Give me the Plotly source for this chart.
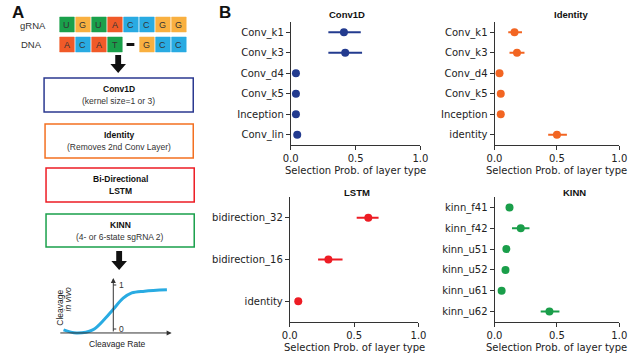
import plotly.graph_objects as go

W, H = 640, 353

# ---- panel B data ----
conv_layers = ["Conv_k1", "Conv_k3", "Conv_d4", "Conv_k5", "Inception", "Conv_lin"]
conv_prob = [0.41, 0.42, 0.04, 0.04, 0.04, 0.05]
conv_err_lo = [0.12, 0.13, 0.0, 0.0, 0.0, 0.0]
conv_err_hi = [0.13, 0.13, 0.0, 0.0, 0.0, 0.0]

ident_layers = ["Conv_k1", "Conv_k3", "Conv_d4", "Conv_k5", "Inception", "identity"]
ident_prob = [0.16, 0.18, 0.04, 0.05, 0.05, 0.50]
ident_err_lo = [0.05, 0.06, 0.0, 0.0, 0.0, 0.07]
ident_err_hi = [0.06, 0.06, 0.0, 0.0, 0.0, 0.08]

lstm_layers = ["bidirection_32", "bidirection_16", "identity"]
lstm_prob = [0.61, 0.30, 0.066]
lstm_err_lo = [0.09, 0.08, 0.0]
lstm_err_hi = [0.08, 0.11, 0.0]

kinn_layers = ["kinn_f41", "kinn_f42", "kinn_u51", "kinn_u52", "kinn_u61", "kinn_u62"]
kinn_prob = [0.12, 0.21, 0.095, 0.088, 0.057, 0.44]
kinn_err_lo = [0.0, 0.07, 0.0, 0.0, 0.0, 0.07]
kinn_err_hi = [0.0, 0.07, 0.0, 0.0, 0.0, 0.08]

# ---- panel A schematic ----
grna_seq = list("UGUACCGG")
dna_seq = list("ACAT-GCC")
nuc_col = {"U": "#1aa04b", "T": "#1aa04b", "G": "#f9b040", "A": "#f05a28", "C": "#29abe2"}

# sigmoid sketch (schematic units: cleavage rate vs cleavage in vivo)
sig_x = [-1.16, -0.86, -0.48, -0.18, 0.0, 0.23, 0.43, 0.73, 1.25]
sig_y = [-0.02, -0.09, -0.02, 0.25, 0.45, 0.70, 0.82, 0.86, 0.89]

NAVY, ORANGE, RED, GREEN = "#233b8f", "#f26522", "#ed1c24", "#1a9e4a"
TICKFONT = dict(family="DejaVu Sans", size=10, color="#222")
ARIAL = "Liberation Sans, Arial"


def px(x):
    return x / W


def py(y):
    return 1 - y / H


fig = go.Figure()

# ---- panel B ----
panels = [
    ("Conv1D", conv_layers, conv_prob, conv_err_lo, conv_err_hi, NAVY, "", (290, 423), (22, 145), 348, 15),
    ("Identity", ident_layers, ident_prob, ident_err_lo, ident_err_hi, ORANGE, "2", (499, 627), (22, 145), 577, 14),
    ("LSTM", lstm_layers, lstm_prob, lstm_err_lo, lstm_err_hi, RED, "3", (289, 421), (197, 322), 358, 192),
    ("KINN", kinn_layers, kinn_prob, kinn_err_lo, kinn_err_hi, GREEN, "4", (499, 627), (197, 322), 581, 192),
]

layout_axes = {}
annotations = []
for title, layers, prob, elo, ehi, col, k, (x0, x1), (y0, y1), tx, ty in panels:
    fig.add_trace(go.Scatter(
        x=prob, y=layers, mode="markers",
        marker=dict(size=8, color=col),
        error_x=dict(type="data", symmetric=False, array=ehi, arrayminus=elo,
                     thickness=2, width=0, color=col),
        xaxis="x" + k, yaxis="y" + k, showlegend=False
    ))
    layout_axes["xaxis" + k] = dict(
        domain=[px(x0), px(x1)], anchor="y" + k, range=[0, 1],
        tickvals=[0, 0.5, 1], ticktext=["0.0", "0.5", "1.0"],
        showline=True, linecolor="#333", linewidth=1, ticks="outside", ticklen=4,
        tickcolor="#333", showgrid=False, zeroline=False, tickfont=TICKFONT
    )
    layout_axes["yaxis" + k] = dict(
        domain=[py(y1), py(y0)], anchor="x" + k, type="category",
        categoryorder="array", categoryarray=layers, range=[len(layers) - 0.5, -0.5],
        showline=True, linecolor="#333", linewidth=1, ticks="outside", ticklen=4,
        tickcolor="#333", showgrid=False, zeroline=False, tickfont=TICKFONT
    )
    annotations.append(dict(text="<b>%s</b>" % title, x=px(tx), y=py(ty), xref="paper", yref="paper",
                            xanchor="center", yanchor="middle",
                            showarrow=False, font=dict(family=ARIAL, size=9.5, color="#111")))
    annotations.append(dict(text="Selection Prob. of layer type", x=px((x0 + x1) / 2), y=py(y1 + 25),
                            xref="paper", yref="paper", xanchor="center", yanchor="middle",
                            showarrow=False, font=TICKFONT))

# ---- panel A: pixel-space diagram axis ----
layout_axes["xaxis5"] = dict(domain=[0, px(200)], range=[0, 200], visible=False, anchor="y5", fixedrange=True)
layout_axes["yaxis5"] = dict(domain=[0, 1], range=[H, 0], visible=False, anchor="x5", fixedrange=True)
shapes = []


def rect(x0, y0, x1, y1, line, fill="white", width=1.5):
    shapes.append(dict(type="rect", xref="x5", yref="y5", x0=x0, y0=y0, x1=x1, y1=y1,
                       line=dict(color=line, width=width), fillcolor=fill, layer="below"))


def label(text, x, y, size=8.5, **kw):
    annotations.append(dict(text=text, x=x, y=y, xref="x5", yref="y5", showarrow=False,
                            font=dict(family=ARIAL, size=size, color=kw.pop("color", "#222")), **kw))


label("gRNA", 26, 25, size=9.5, color="#333")
label("DNA", 24, 44.5, size=9.5, color="#333")
for row, (seq, ytop) in enumerate([(grna_seq, 17), (dna_seq, 37)]):
    for i, nt in enumerate(seq):
        xl = 53 + 16.4 * i
        if nt == "-":
            shapes.append(dict(type="line", xref="x5", yref="y5", x0=xl + 3, x1=xl + 11,
                               y0=ytop + 7.5, y1=ytop + 7.5, line=dict(color="#111", width=3)))
            continue
        rect(xl, ytop, xl + 15, ytop + 15, nuc_col[nt], fill=nuc_col[nt], width=0.5)
        label(nt, xl + 7.5, ytop + 8, size=9, color="#333")


def down_arrow(cx, ytop, ybot):
    mid = ybot - 9
    shapes.append(dict(type="path", xref="x5", yref="y5",
                       path="M %g %g L %g %g L %g %g L %g %g L %g %g L %g %g L %g %g Z" % (
                           cx - 3, ytop, cx + 3, ytop, cx + 3, mid, cx + 8, mid, cx, ybot, cx - 8, mid, cx - 3, mid),
                       fillcolor="#111", line=dict(width=0)))


down_arrow(113, 55, 73)
boxes = [
    (37, 78, 190, 112, "#2b3990", "Conv1D", "(kernel size=1 or 3)"),
    (38, 124, 190, 158, "#f37021", "Identity", "(Removes 2nd Conv Layer)"),
    (39, 168, 191, 202, "#ed1c24", "Bi-Directional", "LSTM"),
    (39, 214, 191, 247, "#1aa04b", "KINN", "(4- or 6-state sgRNA 2)"),
]
for x0, y0, x1, y1, c, t1, t2 in boxes:
    rect(x0, y0, x1, y1, c)
    cx = (x0 + x1) / 2
    label("<b>%s</b>" % t1, cx, y0 + 11, size=8.5, color="#111")
    if t2 == "LSTM":
        label("<b>%s</b>" % t2, cx, y0 + 23, size=8.5, color="#111")
    else:
        label(t2, cx, y0 + 23, size=8.5, color="#333")
down_arrow(114, 251, 270)

label("Cleavage", 53, 308, size=8.5, textangle=-90)
label("<i>in vivo</i>", 62, 299, size=8.5, textangle=-90)
label("Cleavage Rate", 112, 344, size=8.5)

# ---- sigmoid sketch axis ----
layout_axes["xaxis6"] = dict(domain=[px(50), px(175)], range=[-1.318, 1.523], visible=False, anchor="y6", fixedrange=True)
layout_axes["yaxis6"] = dict(domain=[py(340), py(275)], range=[-0.25, 1.227], visible=False, anchor="x6", fixedrange=True)
fig.add_trace(go.Scatter(x=sig_x, y=sig_y, mode="lines", line=dict(color="#29abe2", width=3, shape="spline"),
                         xaxis="x6", yaxis="y6", showlegend=False, hoverinfo="skip"))
for tipx, tipy, tailx, taily in [(1.36, -0.09, -1.27, -0.09), (0, 1.16, 0, -0.09)]:
    annotations.append(dict(x=tipx, y=tipy, ax=tailx, ay=taily, xref="x6", yref="y6", axref="x6", ayref="y6",
                            text="", showarrow=True, arrowhead=2, arrowsize=1, arrowwidth=1, arrowcolor="#333"))
for v in [0, 1]:
    shapes.append(dict(type="line", xref="x6", yref="y6", x0=0, x1=0.07, y0=v, y1=v,
                       line=dict(color="#333", width=1)))
    annotations.append(dict(text=str(v), x=0.08, y=v, xref="x6", yref="y6", showarrow=False, xanchor="left",
                            font=dict(family=ARIAL, size=8.5, color="#333")))

# panel letters
annotations.append(dict(text="<b>A</b>", x=px(2), y=py(1), xref="paper", yref="paper", xanchor="left", yanchor="top",
                        showarrow=False, font=dict(family=ARIAL, size=17, color="#111")))
annotations.append(dict(text="<b>B</b>", x=px(214), y=py(1), xref="paper", yref="paper", xanchor="left", yanchor="top",
                        showarrow=False, font=dict(family=ARIAL, size=17, color="#111")))

fig.update_layout(
    width=W, height=H, margin=dict(l=0, r=0, t=0, b=0),
    paper_bgcolor="white", plot_bgcolor="rgba(0,0,0,0)",
    annotations=annotations, shapes=shapes, showlegend=False,
    **layout_axes
)
# page body has a default margin; drop it so the figure fills the window
fig.write_html("out.html", config={"displayModeBar": False},
               post_script="document.body.style.margin='0';document.body.style.overflow='hidden';")
